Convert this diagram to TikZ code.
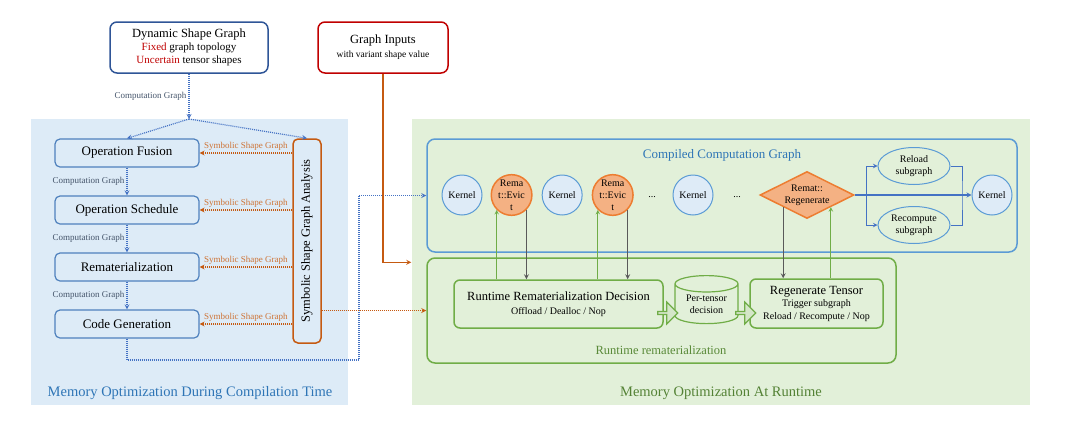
\documentclass[tikz,border=0pt]{standalone}
\usepackage{fontspec}
\setmainfont{Liberation Serif}
\usepackage{tikz}
\usetikzlibrary{positioning,shapes,shapes.geometric,shapes.arrows,arrows,calc}

\definecolor{panelblue}{HTML}{DDEBF7}
\definecolor{panelgreen}{HTML}{E2F0D9}
\definecolor{stageblue}{HTML}{4F81BD}
\definecolor{darkblue}{HTML}{2F5597}
\definecolor{inred}{HTML}{C00000}
\definecolor{skyblue}{HTML}{5B9BD5}
\definecolor{kernelfill}{HTML}{DEEBF7}
\definecolor{evictfill}{HTML}{F4B183}
\definecolor{evictdraw}{HTML}{ED7D31}
\definecolor{rust}{HTML}{C55A11}
\definecolor{leaf}{HTML}{70AD47}
\definecolor{leafdark}{HTML}{548235}
\definecolor{slate}{HTML}{595959}
\definecolor{cgblue}{HTML}{4472C4}
\definecolor{cgtext}{HTML}{44546A}
\definecolor{titleblue}{HTML}{2E75B6}

\tikzstyle{arrow} = [line width=1pt,->,>=stealth]
\tikzstyle{stage} = [rectangle, rounded corners=5pt, draw=stageblue, line width=1.2pt, fill=panelblue, minimum width=144pt, minimum height=28pt, font=\fontsize{13}{15}\selectfont]
\tikzstyle{kernel} = [circle, minimum size=40pt, inner sep=0pt, fill=kernelfill, draw=skyblue, line width=1pt, font=\fontsize{10}{12}\selectfont]
\tikzstyle{evict} = [circle, minimum size=40pt, inner sep=0pt, fill=evictfill, draw=evictdraw, line width=1.5pt, align=center, font=\fontsize{10}{12}\selectfont]
\tikzstyle{cgline} = [arrow, densely dotted, cgblue, line width=1.2pt]
\tikzstyle{ssgline} = [arrow, densely dotted, rust, line width=1.2pt]
\tikzstyle{cglabel} = [font=\fontsize{9}{10}\selectfont, text=cgtext, inner sep=2pt]
\tikzstyle{ssglabel} = [font=\fontsize{9}{10}\selectfont, text=rust!85, inner sep=1.5pt]
\tikzstyle{runbox} = [rectangle, rounded corners=6pt, draw=leaf, line width=1.5pt, fill=panelgreen, align=center]
\tikzstyle{fat} = [single arrow, draw=leaf, fill=leaf!30, line width=1.2pt, minimum height=20pt, minimum width=22pt, single arrow head extend=4pt, inner sep=0pt]

\begin{document}
\begin{tikzpicture}[x=1pt,y=-1pt,node distance=57pt]
\useasboundingbox (0,0) rectangle (1080,426);
% panels
\fill[panelblue] (31,119) rectangle (348,405);
\fill[panelgreen] (412,119) rectangle (1030,405);
\node (lefttitle) at (190,393) [font=\fontsize{14.5}{16}\selectfont, text=titleblue] {Memory Optimization During Compilation Time};
\node (righttitle) at (721,393) [font=\fontsize{14.5}{16}\selectfont, text=leafdark] {Memory Optimization At Runtime};

% inputs
\node (dsg) at (189,47.5) [rectangle, rounded corners=7pt, draw=darkblue, line width=1.5pt, fill=white, minimum width=158pt, minimum height=51pt, align=center, font=\fontsize{11}{13}\selectfont] {{\fontsize{12.5}{14}\selectfont Dynamic Shape Graph}\\\textcolor{inred}{Fixed} graph topology\\\textcolor{inred}{Uncertain} tensor shapes};
\node (gi) at (383,47.5) [rectangle, rounded corners=7pt, draw=inred, line width=1.5pt, fill=white, minimum width=130pt, minimum height=51pt, align=center, font=\fontsize{9.5}{14}\selectfont] {{\fontsize{12.5}{14}\selectfont Graph Inputs}\\with variant shape value};

% compile time passes
\node (fusion) at (127,153) [stage] {Operation Fusion};
\node (schedule) [stage, below of=fusion] {Operation Schedule};
\node (remat) [stage, below of=schedule] {Rematerialization};
\node (codegen) [stage, below of=remat] {Code Generation};
\node (ssga) at (307,241) [rectangle, rounded corners=5pt, draw=rust, line width=1.5pt, fill=panelblue, minimum width=204pt, minimum height=28pt, rotate=90, font=\fontsize{12.5}{14}\selectfont] {Symbolic Shape Graph Analysis};

% compiled graph
\node (compiled) at (722,195.5) [rectangle, rounded corners=8pt, draw=skyblue, line width=1.5pt, minimum width=590pt, minimum height=113pt] {};
\node (cctitle) at (722,155) [font=\fontsize{13}{15}\selectfont, text=titleblue] {Compiled Computation Graph};
\node (k1) at (462,195) [kernel] {Kernel};
\node (e1) [evict, right=8pt of k1] {Rema\\t::Evic\\t};
\node (k2) [kernel, right=9pt of e1] {Kernel};
\node (e2) [evict, right=9pt of k2] {Rema\\t::Evic\\t};
\node (dots1) at (652,197) [font=\fontsize{10}{12}\selectfont] {...};
\node (k3) at (693,195) [kernel] {Kernel};
\node (dots2) at (737,197) [font=\fontsize{10}{12}\selectfont] {...};
\node (regen) at (807,195) [diamond, aspect=2, inner sep=0pt, minimum width=94pt, minimum height=47pt, fill=evictfill, draw=evictdraw, line width=1.5pt, align=center, font=\fontsize{10}{12}\selectfont] {Remat::\\Regenerate};
\node (reload) at (914,166) [ellipse, draw=skyblue, line width=1pt, minimum width=72pt, minimum height=37pt, inner sep=0pt, align=center, font=\fontsize{10}{12}\selectfont] {Reload\\subgraph};
\node (recomp) at (914,225) [ellipse, draw=skyblue, line width=1pt, minimum width=72pt, minimum height=37pt, inner sep=0pt, align=center, font=\fontsize{10}{12}\selectfont] {Recompute\\subgraph};
\node (k4) at (992,195) [kernel] {Kernel};

% runtime rematerialization
\node (runtime) at (661.5,310.5) [rectangle, rounded corners=8pt, draw=leaf, line width=1.5pt, minimum width=469pt, minimum height=105pt] {};
\node (rtlabel) at (661,350) [font=\fontsize{12.5}{14}\selectfont, text=leaf!80!black] {Runtime rematerialization};
\node (decision) at (558.5,304) [runbox, minimum width=209pt, minimum height=48pt, font=\fontsize{10}{14}\selectfont] {{\fontsize{12.5}{14}\selectfont Runtime Rematerialization Decision}\\Offload / Dealloc / Nop};
\node (pertensor) at (706.5,304) [cylinder, shape border rotate=90, aspect=0.4, draw=leaf, line width=1.2pt, fill=panelgreen, minimum width=63pt, minimum height=48pt, inner sep=0pt, align=center, font=\fontsize{10}{12}\selectfont] {Per-tensor\\decision};
\node (regtensor) at (816.5,303.5) [runbox, minimum width=133pt, minimum height=49pt, font=\fontsize{10}{12.5}\selectfont] {{\fontsize{12.5}{14}\selectfont Regenerate Tensor}\\Trigger subgraph\\Reload / Recompute / Nop};
\node (fat1) at (667,313) [fat] {};
\node (fat2) at (745,313) [fat] {};

% compile time connectors
\coordinate (fork) at (189,119);
\coordinate (cgturn) at (359,360);
\draw[cgline] (dsg) -- node[cglabel, left] {Computation Graph} (fork);
\draw[cgline] (fork) -- (fusion.north);
\draw[cgline] (fork) -- (ssga.east);
\draw[cgline] (fusion) -- node[cglabel, left] {Computation Graph} (schedule);
\draw[cgline] (schedule) -- node[cglabel, left] {Computation Graph} (remat);
\draw[cgline] (remat) -- node[cglabel, left] {Computation Graph} (codegen);
\draw[ssgline] (ssga.north |- fusion) -- node[ssglabel, above] {Symbolic Shape Graph} (fusion.east);
\draw[ssgline] (ssga.north |- schedule) -- node[ssglabel, above] {Symbolic Shape Graph} (schedule.east);
\draw[ssgline] (ssga.north |- remat) -- node[ssglabel, above] {Symbolic Shape Graph} (remat.east);
\draw[ssgline] (ssga.north |- codegen) -- node[ssglabel, above] {Symbolic Shape Graph} (codegen.east);
\draw[cgline] (codegen.south) |- (cgturn) |- (compiled.west);
\draw[ssgline] (ssga.south |- runtime.west) -- (runtime.west);
\draw[arrow, rust, line width=1.2pt, shorten >=15pt] (gi.south) |- ($(runtime.north west)+(0,5)$);

% runtime connectors
\coordinate (split) at (866,195);
\coordinate (merge) at (962,195);
\draw[arrow, cgblue, line width=1.2pt] (regen.east) -- (k4.west);
\draw[cgblue, line width=1pt] (split |- reload) -- (split |- recomp);
\draw[arrow, cgblue] (split |- reload) -- (reload.west);
\draw[arrow, cgblue] (split |- recomp) -- (recomp.west);
\draw[cgblue, line width=1pt] (reload.east) -| (merge) |- (recomp.east);
\draw[arrow, leaf] (decision.north -| e1.-135) -- (e1.-135);
\draw[arrow, slate, line width=1.2pt] (e1.-45) -- (decision.north -| e1.-45);
\draw[arrow, leaf] (decision.north -| e2.-135) -- (e2.-135);
\draw[arrow, slate, line width=1.2pt] (e2.-45) -- (decision.north -| e2.-45);
\draw[arrow, slate, line width=1.2pt] (regen.south west) -- (regtensor.north -| regen.south west);
\draw[arrow, leaf] (regtensor.north -| regen.south east) -- (regen.south east);
\end{tikzpicture}
\end{document}
